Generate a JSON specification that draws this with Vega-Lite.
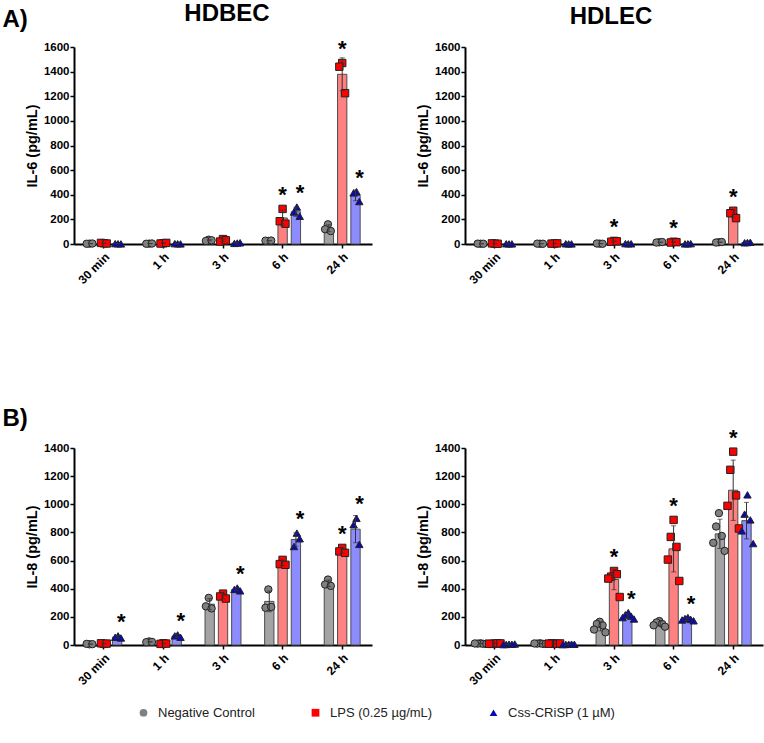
{
  "$schema": "https://vega.github.io/schema/vega-lite/v6.json",
  "padding": {"left": 2, "top": 2, "right": 2, "bottom": 2},
  "background": "white",
  "data": {"values": [
    {"p":"A1","t":"30 min","g":"NC","r":1,"v":3,"s":0},{"p":"A1","t":"30 min","g":"NC","r":2,"v":2,"s":0},{"p":"A1","t":"30 min","g":"NC","r":3,"v":4,"s":0},
    {"p":"A1","t":"30 min","g":"LPS","r":1,"v":6,"s":0},{"p":"A1","t":"30 min","g":"LPS","r":2,"v":9,"s":0},{"p":"A1","t":"30 min","g":"LPS","r":3,"v":4,"s":0},
    {"p":"A1","t":"30 min","g":"CSS","r":1,"v":2,"s":0},{"p":"A1","t":"30 min","g":"CSS","r":2,"v":3,"s":0},{"p":"A1","t":"30 min","g":"CSS","r":3,"v":1,"s":0},
    {"p":"A1","t":"1 h","g":"NC","r":1,"v":3,"s":0},{"p":"A1","t":"1 h","g":"NC","r":2,"v":2,"s":0},{"p":"A1","t":"1 h","g":"NC","r":3,"v":4,"s":0},
    {"p":"A1","t":"1 h","g":"LPS","r":1,"v":6,"s":0},{"p":"A1","t":"1 h","g":"LPS","r":2,"v":4,"s":0},{"p":"A1","t":"1 h","g":"LPS","r":3,"v":9,"s":0},
    {"p":"A1","t":"1 h","g":"CSS","r":1,"v":2,"s":0},{"p":"A1","t":"1 h","g":"CSS","r":2,"v":3,"s":0},{"p":"A1","t":"1 h","g":"CSS","r":3,"v":1,"s":0},
    {"p":"A1","t":"3 h","g":"NC","r":1,"v":35,"s":0},{"p":"A1","t":"3 h","g":"NC","r":2,"v":25,"s":0},{"p":"A1","t":"3 h","g":"NC","r":3,"v":30,"s":0},
    {"p":"A1","t":"3 h","g":"LPS","r":1,"v":40,"s":0},{"p":"A1","t":"3 h","g":"LPS","r":2,"v":20,"s":0},{"p":"A1","t":"3 h","g":"LPS","r":3,"v":30,"s":0},
    {"p":"A1","t":"3 h","g":"CSS","r":1,"v":8,"s":0},{"p":"A1","t":"3 h","g":"CSS","r":2,"v":5,"s":0},{"p":"A1","t":"3 h","g":"CSS","r":3,"v":10,"s":0},
    {"p":"A1","t":"6 h","g":"NC","r":1,"v":25,"s":0},{"p":"A1","t":"6 h","g":"NC","r":2,"v":27,"s":0},{"p":"A1","t":"6 h","g":"NC","r":3,"v":28,"s":0},
    {"p":"A1","t":"6 h","g":"LPS","r":1,"v":285,"s":1},{"p":"A1","t":"6 h","g":"LPS","r":2,"v":185,"s":1},{"p":"A1","t":"6 h","g":"LPS","r":3,"v":165,"s":1},
    {"p":"A1","t":"6 h","g":"CSS","r":1,"v":300,"s":1},{"p":"A1","t":"6 h","g":"CSS","r":2,"v":260,"s":1},{"p":"A1","t":"6 h","g":"CSS","r":3,"v":225,"s":1},
    {"p":"A1","t":"24 h","g":"NC","r":1,"v":160,"s":0},{"p":"A1","t":"24 h","g":"NC","r":2,"v":120,"s":0},{"p":"A1","t":"24 h","g":"NC","r":3,"v":105,"s":0},
    {"p":"A1","t":"24 h","g":"LPS","r":1,"v":1470,"s":1},{"p":"A1","t":"24 h","g":"LPS","r":2,"v":1440,"s":1},{"p":"A1","t":"24 h","g":"LPS","r":3,"v":1225,"s":1},
    {"p":"A1","t":"24 h","g":"CSS","r":1,"v":425,"s":1},{"p":"A1","t":"24 h","g":"CSS","r":2,"v":415,"s":1},{"p":"A1","t":"24 h","g":"CSS","r":3,"v":345,"s":1},

    {"p":"A2","t":"30 min","g":"NC","r":1,"v":2,"s":0},{"p":"A2","t":"30 min","g":"NC","r":2,"v":3,"s":0},{"p":"A2","t":"30 min","g":"NC","r":3,"v":2,"s":0},
    {"p":"A2","t":"30 min","g":"LPS","r":1,"v":3,"s":0},{"p":"A2","t":"30 min","g":"LPS","r":2,"v":5,"s":0},{"p":"A2","t":"30 min","g":"LPS","r":3,"v":2,"s":0},
    {"p":"A2","t":"30 min","g":"CSS","r":1,"v":1,"s":0},{"p":"A2","t":"30 min","g":"CSS","r":2,"v":2,"s":0},{"p":"A2","t":"30 min","g":"CSS","r":3,"v":1,"s":0},
    {"p":"A2","t":"1 h","g":"NC","r":1,"v":2,"s":0},{"p":"A2","t":"1 h","g":"NC","r":2,"v":3,"s":0},{"p":"A2","t":"1 h","g":"NC","r":3,"v":2,"s":0},
    {"p":"A2","t":"1 h","g":"LPS","r":1,"v":4,"s":0},{"p":"A2","t":"1 h","g":"LPS","r":2,"v":3,"s":0},{"p":"A2","t":"1 h","g":"LPS","r":3,"v":5,"s":0},
    {"p":"A2","t":"1 h","g":"CSS","r":1,"v":1,"s":0},{"p":"A2","t":"1 h","g":"CSS","r":2,"v":2,"s":0},{"p":"A2","t":"1 h","g":"CSS","r":3,"v":1,"s":0},
    {"p":"A2","t":"3 h","g":"NC","r":1,"v":3,"s":0},{"p":"A2","t":"3 h","g":"NC","r":2,"v":4,"s":0},{"p":"A2","t":"3 h","g":"NC","r":3,"v":2,"s":0},
    {"p":"A2","t":"3 h","g":"LPS","r":1,"v":25,"s":1},{"p":"A2","t":"3 h","g":"LPS","r":2,"v":18,"s":1},{"p":"A2","t":"3 h","g":"LPS","r":3,"v":22,"s":1},
    {"p":"A2","t":"3 h","g":"CSS","r":1,"v":2,"s":0},{"p":"A2","t":"3 h","g":"CSS","r":2,"v":3,"s":0},{"p":"A2","t":"3 h","g":"CSS","r":3,"v":2,"s":0},
    {"p":"A2","t":"6 h","g":"NC","r":1,"v":14,"s":0},{"p":"A2","t":"6 h","g":"NC","r":2,"v":12,"s":0},{"p":"A2","t":"6 h","g":"NC","r":3,"v":16,"s":0},
    {"p":"A2","t":"6 h","g":"LPS","r":1,"v":18,"s":1},{"p":"A2","t":"6 h","g":"LPS","r":2,"v":12,"s":1},{"p":"A2","t":"6 h","g":"LPS","r":3,"v":15,"s":1},
    {"p":"A2","t":"6 h","g":"CSS","r":1,"v":2,"s":0},{"p":"A2","t":"6 h","g":"CSS","r":2,"v":1,"s":0},{"p":"A2","t":"6 h","g":"CSS","r":3,"v":3,"s":0},
    {"p":"A2","t":"24 h","g":"NC","r":1,"v":14,"s":0},{"p":"A2","t":"24 h","g":"NC","r":2,"v":12,"s":0},{"p":"A2","t":"24 h","g":"NC","r":3,"v":16,"s":0},
    {"p":"A2","t":"24 h","g":"LPS","r":1,"v":270,"s":1},{"p":"A2","t":"24 h","g":"LPS","r":2,"v":250,"s":1},{"p":"A2","t":"24 h","g":"LPS","r":3,"v":210,"s":1},
    {"p":"A2","t":"24 h","g":"CSS","r":1,"v":12,"s":0},{"p":"A2","t":"24 h","g":"CSS","r":2,"v":10,"s":0},{"p":"A2","t":"24 h","g":"CSS","r":3,"v":14,"s":0},

    {"p":"B1","t":"30 min","g":"NC","r":1,"v":5,"s":0},{"p":"B1","t":"30 min","g":"NC","r":2,"v":8,"s":0},{"p":"B1","t":"30 min","g":"NC","r":3,"v":6,"s":0},
    {"p":"B1","t":"30 min","g":"LPS","r":1,"v":8,"s":0},{"p":"B1","t":"30 min","g":"LPS","r":2,"v":12,"s":0},{"p":"B1","t":"30 min","g":"LPS","r":3,"v":10,"s":0},
    {"p":"B1","t":"30 min","g":"CSS","r":1,"v":65,"s":1},{"p":"B1","t":"30 min","g":"CSS","r":2,"v":55,"s":1},{"p":"B1","t":"30 min","g":"CSS","r":3,"v":50,"s":1},
    {"p":"B1","t":"1 h","g":"NC","r":1,"v":25,"s":0},{"p":"B1","t":"1 h","g":"NC","r":2,"v":20,"s":0},{"p":"B1","t":"1 h","g":"NC","r":3,"v":22,"s":0},
    {"p":"B1","t":"1 h","g":"LPS","r":1,"v":12,"s":0},{"p":"B1","t":"1 h","g":"LPS","r":2,"v":8,"s":0},{"p":"B1","t":"1 h","g":"LPS","r":3,"v":10,"s":0},
    {"p":"B1","t":"1 h","g":"CSS","r":1,"v":72,"s":1},{"p":"B1","t":"1 h","g":"CSS","r":2,"v":65,"s":1},{"p":"B1","t":"1 h","g":"CSS","r":3,"v":55,"s":1},
    {"p":"B1","t":"3 h","g":"NC","r":1,"v":335,"s":0},{"p":"B1","t":"3 h","g":"NC","r":2,"v":275,"s":0},{"p":"B1","t":"3 h","g":"NC","r":3,"v":260,"s":0},
    {"p":"B1","t":"3 h","g":"LPS","r":1,"v":365,"s":0},{"p":"B1","t":"3 h","g":"LPS","r":2,"v":345,"s":0},{"p":"B1","t":"3 h","g":"LPS","r":3,"v":330,"s":0},
    {"p":"B1","t":"3 h","g":"CSS","r":1,"v":405,"s":1},{"p":"B1","t":"3 h","g":"CSS","r":2,"v":395,"s":1},{"p":"B1","t":"3 h","g":"CSS","r":3,"v":385,"s":1},
    {"p":"B1","t":"6 h","g":"NC","r":1,"v":395,"s":0},{"p":"B1","t":"6 h","g":"NC","r":2,"v":265,"s":0},{"p":"B1","t":"6 h","g":"NC","r":3,"v":270,"s":0},
    {"p":"B1","t":"6 h","g":"LPS","r":1,"v":605,"s":0},{"p":"B1","t":"6 h","g":"LPS","r":2,"v":575,"s":0},{"p":"B1","t":"6 h","g":"LPS","r":3,"v":570,"s":0},
    {"p":"B1","t":"6 h","g":"CSS","r":1,"v":795,"s":1},{"p":"B1","t":"6 h","g":"CSS","r":2,"v":700,"s":1},{"p":"B1","t":"6 h","g":"CSS","r":3,"v":755,"s":1},
    {"p":"B1","t":"24 h","g":"NC","r":1,"v":465,"s":0},{"p":"B1","t":"24 h","g":"NC","r":2,"v":430,"s":0},{"p":"B1","t":"24 h","g":"NC","r":3,"v":420,"s":0},
    {"p":"B1","t":"24 h","g":"LPS","r":1,"v":690,"s":1},{"p":"B1","t":"24 h","g":"LPS","r":2,"v":665,"s":1},{"p":"B1","t":"24 h","g":"LPS","r":3,"v":655,"s":1},
    {"p":"B1","t":"24 h","g":"CSS","r":1,"v":900,"s":1},{"p":"B1","t":"24 h","g":"CSS","r":2,"v":855,"s":1},{"p":"B1","t":"24 h","g":"CSS","r":3,"v":715,"s":1},

    {"p":"B2","t":"30 min","g":"NC","r":1,"v":12,"s":0},{"p":"B2","t":"30 min","g":"NC","r":2,"v":10,"s":0},{"p":"B2","t":"30 min","g":"NC","r":3,"v":8,"s":0},{"p":"B2","t":"30 min","g":"NC","r":4,"v":11,"s":0},{"p":"B2","t":"30 min","g":"NC","r":5,"v":9,"s":0},
    {"p":"B2","t":"30 min","g":"LPS","r":1,"v":10,"s":0},{"p":"B2","t":"30 min","g":"LPS","r":2,"v":8,"s":0},{"p":"B2","t":"30 min","g":"LPS","r":3,"v":12,"s":0},{"p":"B2","t":"30 min","g":"LPS","r":4,"v":9,"s":0},{"p":"B2","t":"30 min","g":"LPS","r":5,"v":11,"s":0},
    {"p":"B2","t":"30 min","g":"CSS","r":1,"v":6,"s":0},{"p":"B2","t":"30 min","g":"CSS","r":2,"v":4,"s":0},{"p":"B2","t":"30 min","g":"CSS","r":3,"v":5,"s":0},{"p":"B2","t":"30 min","g":"CSS","r":4,"v":3,"s":0},{"p":"B2","t":"30 min","g":"CSS","r":5,"v":7,"s":0},
    {"p":"B2","t":"1 h","g":"NC","r":1,"v":12,"s":0},{"p":"B2","t":"1 h","g":"NC","r":2,"v":10,"s":0},{"p":"B2","t":"1 h","g":"NC","r":3,"v":8,"s":0},{"p":"B2","t":"1 h","g":"NC","r":4,"v":11,"s":0},{"p":"B2","t":"1 h","g":"NC","r":5,"v":9,"s":0},
    {"p":"B2","t":"1 h","g":"LPS","r":1,"v":10,"s":0},{"p":"B2","t":"1 h","g":"LPS","r":2,"v":12,"s":0},{"p":"B2","t":"1 h","g":"LPS","r":3,"v":8,"s":0},{"p":"B2","t":"1 h","g":"LPS","r":4,"v":9,"s":0},{"p":"B2","t":"1 h","g":"LPS","r":5,"v":11,"s":0},
    {"p":"B2","t":"1 h","g":"CSS","r":1,"v":5,"s":0},{"p":"B2","t":"1 h","g":"CSS","r":2,"v":4,"s":0},{"p":"B2","t":"1 h","g":"CSS","r":3,"v":6,"s":0},{"p":"B2","t":"1 h","g":"CSS","r":4,"v":3,"s":0},{"p":"B2","t":"1 h","g":"CSS","r":5,"v":5,"s":0},
    {"p":"B2","t":"3 h","g":"NC","r":1,"v":165,"s":0},{"p":"B2","t":"3 h","g":"NC","r":2,"v":150,"s":0},{"p":"B2","t":"3 h","g":"NC","r":3,"v":140,"s":0},{"p":"B2","t":"3 h","g":"NC","r":4,"v":110,"s":0},{"p":"B2","t":"3 h","g":"NC","r":5,"v":90,"s":0},
    {"p":"B2","t":"3 h","g":"LPS","r":1,"v":526,"s":1},{"p":"B2","t":"3 h","g":"LPS","r":2,"v":486,"s":1},{"p":"B2","t":"3 h","g":"LPS","r":3,"v":503,"s":1},{"p":"B2","t":"3 h","g":"LPS","r":4,"v":472,"s":1},{"p":"B2","t":"3 h","g":"LPS","r":5,"v":341,"s":1},
    {"p":"B2","t":"3 h","g":"CSS","r":1,"v":230,"s":1},{"p":"B2","t":"3 h","g":"CSS","r":2,"v":215,"s":1},{"p":"B2","t":"3 h","g":"CSS","r":3,"v":205,"s":1},{"p":"B2","t":"3 h","g":"CSS","r":4,"v":195,"s":1},{"p":"B2","t":"3 h","g":"CSS","r":5,"v":185,"s":1},
    {"p":"B2","t":"6 h","g":"NC","r":1,"v":170,"s":0},{"p":"B2","t":"6 h","g":"NC","r":2,"v":160,"s":0},{"p":"B2","t":"6 h","g":"NC","r":3,"v":150,"s":0},{"p":"B2","t":"6 h","g":"NC","r":4,"v":140,"s":0},{"p":"B2","t":"6 h","g":"NC","r":5,"v":130,"s":0},
    {"p":"B2","t":"6 h","g":"LPS","r":1,"v":889,"s":1},{"p":"B2","t":"6 h","g":"LPS","r":2,"v":768,"s":1},{"p":"B2","t":"6 h","g":"LPS","r":3,"v":697,"s":1},{"p":"B2","t":"6 h","g":"LPS","r":4,"v":607,"s":1},{"p":"B2","t":"6 h","g":"LPS","r":5,"v":455,"s":1},
    {"p":"B2","t":"6 h","g":"CSS","r":1,"v":195,"s":1},{"p":"B2","t":"6 h","g":"CSS","r":2,"v":188,"s":1},{"p":"B2","t":"6 h","g":"CSS","r":3,"v":182,"s":1},{"p":"B2","t":"6 h","g":"CSS","r":4,"v":178,"s":1},{"p":"B2","t":"6 h","g":"CSS","r":5,"v":172,"s":1},
    {"p":"B2","t":"24 h","g":"NC","r":1,"v":937,"s":0},{"p":"B2","t":"24 h","g":"NC","r":2,"v":842,"s":0},{"p":"B2","t":"24 h","g":"NC","r":3,"v":775,"s":0},{"p":"B2","t":"24 h","g":"NC","r":4,"v":726,"s":0},{"p":"B2","t":"24 h","g":"NC","r":5,"v":669,"s":0},
    {"p":"B2","t":"24 h","g":"LPS","r":1,"v":1374,"s":1},{"p":"B2","t":"24 h","g":"LPS","r":2,"v":1245,"s":1},{"p":"B2","t":"24 h","g":"LPS","r":3,"v":1063,"s":1},{"p":"B2","t":"24 h","g":"LPS","r":4,"v":989,"s":1},{"p":"B2","t":"24 h","g":"LPS","r":5,"v":828,"s":1},
    {"p":"B2","t":"24 h","g":"CSS","r":1,"v":1067,"s":0},{"p":"B2","t":"24 h","g":"CSS","r":2,"v":930,"s":0},{"p":"B2","t":"24 h","g":"CSS","r":3,"v":889,"s":0},{"p":"B2","t":"24 h","g":"CSS","r":4,"v":811,"s":0},{"p":"B2","t":"24 h","g":"CSS","r":5,"v":721,"s":0}
  ]},
  "transform": [{"calculate": "datum.g + datum.r", "as": "slot"}],
  "vconcat": [
    {
      "title": {"text": "A)", "anchor": "start", "fontSize": 24, "fontWeight": "bold", "font": "Liberation Sans", "color": "black", "offset": -30, "dx": -22},
      "spacing": 43,
      "hconcat": [
        {
          "width": 298, "height": 197,
          "title": {"text": "HDBEC", "fontSize": 24, "fontWeight": "bold", "font": "Liberation Sans", "color": "black", "offset": 12, "dx": 4},
          "transform": [{"filter": "datum.p === 'A1'"}],
          "encoding": {"x": {"field": "t", "type": "nominal", "scale": {"domain": ["30 min","1 h","3 h","6 h","24 h"], "paddingInner": 0.33, "paddingOuter": 0.165}, "axis": {"title": null}}},
          "resolve": {"scale": {"xOffset": "independent"}},
          "layer": [
            {"mark": {"type": "bar", "stroke": "#4d4d4d", "strokeWidth": 1},
             "encoding": {
               "y": {"aggregate": "mean", "field": "v", "type": "quantitative", "scale": {"domain": [0, 1600], "nice": false}, "axis": {"title": "IL-6 (pg/mL)", "values": [0,200,400,600,800,1000,1200,1400,1600]}},
               "xOffset": {"field": "g", "type": "nominal", "scale": {"domain": ["NC","LPS","CSS"], "paddingInner": 0.3, "paddingOuter": 0.15}},
               "color": {"field": "g", "type": "nominal", "scale": {"domain": ["CSS","LPS","NC"], "range": ["#8c8cff","#ff8080","#a3a3a6"]}, "legend": null}}},
            {"mark": {"type": "point", "filled": true, "size": 55, "stroke": "#222222", "strokeWidth": 1, "opacity": 1},
             "encoding": {
               "y": {"field": "v", "type": "quantitative", "axis": {"title": "IL-6 (pg/mL)", "values": [0,200,400,600,800,1000,1200,1400,1600]}},
               "xOffset": {"field": "slot", "type": "nominal", "scale": {"domain": ["NC4","NC2","NC1","NC3","NC5","LPS4","LPS2","LPS1","LPS3","LPS5","CSS4","CSS2","CSS1","CSS3","CSS5"], "paddingInner": 0, "paddingOuter": 0}},
               "fill": {"field": "g", "type": "nominal", "title": null, "scale": {"domain": ["NC","LPS","CSS"], "range": ["#808080","#ff0000","#0a0ab4"]}, "legend": {"labelExpr": "datum.value == 'NC' ? 'Negative Control' : datum.value == 'LPS' ? 'LPS (0.25 µg/mL)' : 'Css-CRiSP (1 µM)'", "symbolStrokeColor": "#222222", "symbolStrokeWidth": 1}},
               "shape": {"field": "g", "type": "nominal", "title": null, "scale": {"domain": ["NC","LPS","CSS"], "range": ["circle","square","triangle-up"]}, "legend": {"labelExpr": "datum.value == 'NC' ? 'Negative Control' : datum.value == 'LPS' ? 'LPS (0.25 µg/mL)' : 'Css-CRiSP (1 µM)'", "symbolStrokeColor": "#222222", "symbolStrokeWidth": 1}}}},
            {"transform": [{"aggregate": [{"op": "mean", "field": "v", "as": "m"}, {"op": "stdev", "field": "v", "as": "sd"}], "groupby": ["t","g"]}, {"calculate": "datum.m - datum.sd", "as": "lo"}, {"calculate": "datum.m + datum.sd", "as": "hi"}],
             "layer": [
               {"mark": {"type": "rule", "color": "#333333", "strokeWidth": 1}, "encoding": {"y": {"field": "lo", "type": "quantitative", "axis": {"title": "IL-6 (pg/mL)", "values": [0,200,400,600,800,1000,1200,1400,1600]}}, "y2": {"field": "hi"}, "xOffset": {"field": "g", "type": "nominal", "scale": {"domain": ["NC","LPS","CSS"], "paddingInner": 0.3, "paddingOuter": 0.15}}}},
               {"mark": {"type": "tick", "color": "#333333", "thickness": 1, "size": 5, "orient": "horizontal"}, "encoding": {"y": {"field": "lo", "type": "quantitative", "axis": {"title": "IL-6 (pg/mL)", "values": [0,200,400,600,800,1000,1200,1400,1600]}}, "xOffset": {"field": "g", "type": "nominal", "scale": {"domain": ["NC","LPS","CSS"], "paddingInner": 0.3, "paddingOuter": 0.15}}}},
               {"mark": {"type": "tick", "color": "#333333", "thickness": 1, "size": 5, "orient": "horizontal"}, "encoding": {"y": {"field": "hi", "type": "quantitative", "axis": {"title": "IL-6 (pg/mL)", "values": [0,200,400,600,800,1000,1200,1400,1600]}}, "xOffset": {"field": "g", "type": "nominal", "scale": {"domain": ["NC","LPS","CSS"], "paddingInner": 0.3, "paddingOuter": 0.15}}}}
             ]},
            {"transform": [{"filter": "datum.s == 1"}, {"aggregate": [{"op": "max", "field": "v", "as": "mx"}], "groupby": ["t","g"]}],
             "mark": {"type": "text", "text": "*", "fontSize": 22, "fontWeight": "bold", "font": "Liberation Sans", "color": "black", "baseline": "alphabetic", "dy": -7},
             "encoding": {"y": {"field": "mx", "type": "quantitative", "axis": {"title": "IL-6 (pg/mL)", "values": [0,200,400,600,800,1000,1200,1400,1600]}}, "xOffset": {"field": "g", "type": "nominal", "scale": {"domain": ["NC","LPS","CSS"], "paddingInner": 0.3, "paddingOuter": 0.15}}}}
          ]
        },
        {
          "width": 298, "height": 197,
          "title": {"text": "HDLEC", "fontSize": 24, "fontWeight": "bold", "font": "Liberation Sans", "color": "black", "offset": 12, "dx": -3},
          "transform": [{"filter": "datum.p === 'A2'"}],
          "encoding": {"x": {"field": "t", "type": "nominal", "scale": {"domain": ["30 min","1 h","3 h","6 h","24 h"], "paddingInner": 0.33, "paddingOuter": 0.165}, "axis": {"title": null}}},
          "resolve": {"scale": {"xOffset": "independent"}},
          "layer": [
            {"mark": {"type": "bar", "stroke": "#4d4d4d", "strokeWidth": 1},
             "encoding": {
               "y": {"aggregate": "mean", "field": "v", "type": "quantitative", "scale": {"domain": [0, 1600], "nice": false}, "axis": {"title": "IL-6 (pg/mL)", "values": [0,200,400,600,800,1000,1200,1400,1600]}},
               "xOffset": {"field": "g", "type": "nominal", "scale": {"domain": ["NC","LPS","CSS"], "paddingInner": 0.3, "paddingOuter": 0.15}},
               "color": {"field": "g", "type": "nominal", "scale": {"domain": ["CSS","LPS","NC"], "range": ["#8c8cff","#ff8080","#a3a3a6"]}, "legend": null}}},
            {"mark": {"type": "point", "filled": true, "size": 55, "stroke": "#222222", "strokeWidth": 1, "opacity": 1},
             "encoding": {
               "y": {"field": "v", "type": "quantitative", "axis": {"title": "IL-6 (pg/mL)", "values": [0,200,400,600,800,1000,1200,1400,1600]}},
               "xOffset": {"field": "slot", "type": "nominal", "scale": {"domain": ["NC4","NC2","NC1","NC3","NC5","LPS4","LPS2","LPS1","LPS3","LPS5","CSS4","CSS2","CSS1","CSS3","CSS5"], "paddingInner": 0, "paddingOuter": 0}},
               "fill": {"field": "g", "type": "nominal", "title": null, "scale": {"domain": ["NC","LPS","CSS"], "range": ["#808080","#ff0000","#0a0ab4"]}, "legend": {"labelExpr": "datum.value == 'NC' ? 'Negative Control' : datum.value == 'LPS' ? 'LPS (0.25 µg/mL)' : 'Css-CRiSP (1 µM)'", "symbolStrokeColor": "#222222", "symbolStrokeWidth": 1}},
               "shape": {"field": "g", "type": "nominal", "title": null, "scale": {"domain": ["NC","LPS","CSS"], "range": ["circle","square","triangle-up"]}, "legend": {"labelExpr": "datum.value == 'NC' ? 'Negative Control' : datum.value == 'LPS' ? 'LPS (0.25 µg/mL)' : 'Css-CRiSP (1 µM)'", "symbolStrokeColor": "#222222", "symbolStrokeWidth": 1}}}},
            {"transform": [{"aggregate": [{"op": "mean", "field": "v", "as": "m"}, {"op": "stdev", "field": "v", "as": "sd"}], "groupby": ["t","g"]}, {"calculate": "datum.m - datum.sd", "as": "lo"}, {"calculate": "datum.m + datum.sd", "as": "hi"}],
             "layer": [
               {"mark": {"type": "rule", "color": "#333333", "strokeWidth": 1}, "encoding": {"y": {"field": "lo", "type": "quantitative", "axis": {"title": "IL-6 (pg/mL)", "values": [0,200,400,600,800,1000,1200,1400,1600]}}, "y2": {"field": "hi"}, "xOffset": {"field": "g", "type": "nominal", "scale": {"domain": ["NC","LPS","CSS"], "paddingInner": 0.3, "paddingOuter": 0.15}}}},
               {"mark": {"type": "tick", "color": "#333333", "thickness": 1, "size": 5, "orient": "horizontal"}, "encoding": {"y": {"field": "lo", "type": "quantitative", "axis": {"title": "IL-6 (pg/mL)", "values": [0,200,400,600,800,1000,1200,1400,1600]}}, "xOffset": {"field": "g", "type": "nominal", "scale": {"domain": ["NC","LPS","CSS"], "paddingInner": 0.3, "paddingOuter": 0.15}}}},
               {"mark": {"type": "tick", "color": "#333333", "thickness": 1, "size": 5, "orient": "horizontal"}, "encoding": {"y": {"field": "hi", "type": "quantitative", "axis": {"title": "IL-6 (pg/mL)", "values": [0,200,400,600,800,1000,1200,1400,1600]}}, "xOffset": {"field": "g", "type": "nominal", "scale": {"domain": ["NC","LPS","CSS"], "paddingInner": 0.3, "paddingOuter": 0.15}}}}
             ]},
            {"transform": [{"filter": "datum.s == 1"}, {"aggregate": [{"op": "max", "field": "v", "as": "mx"}], "groupby": ["t","g"]}],
             "mark": {"type": "text", "text": "*", "fontSize": 22, "fontWeight": "bold", "font": "Liberation Sans", "color": "black", "baseline": "alphabetic", "dy": -7},
             "encoding": {"y": {"field": "mx", "type": "quantitative", "axis": {"title": "IL-6 (pg/mL)", "values": [0,200,400,600,800,1000,1200,1400,1600]}}, "xOffset": {"field": "g", "type": "nominal", "scale": {"domain": ["NC","LPS","CSS"], "paddingInner": 0.3, "paddingOuter": 0.15}}}}
          ]
        }
      ]
    },
    {
      "title": {"text": "B)", "anchor": "start", "fontSize": 24, "fontWeight": "bold", "font": "Liberation Sans", "color": "black", "offset": -4, "dx": -22},
      "spacing": 43,
      "hconcat": [
        {
          "width": 298, "height": 197,
          "transform": [{"filter": "datum.p === 'B1'"}],
          "encoding": {"x": {"field": "t", "type": "nominal", "scale": {"domain": ["30 min","1 h","3 h","6 h","24 h"], "paddingInner": 0.33, "paddingOuter": 0.165}, "axis": {"title": null}}},
          "resolve": {"scale": {"xOffset": "independent"}},
          "layer": [
            {"mark": {"type": "bar", "stroke": "#4d4d4d", "strokeWidth": 1},
             "encoding": {
               "y": {"aggregate": "mean", "field": "v", "type": "quantitative", "scale": {"domain": [0, 1400], "nice": false}, "axis": {"title": "IL-8 (pg/mL)", "values": [0,200,400,600,800,1000,1200,1400]}},
               "xOffset": {"field": "g", "type": "nominal", "scale": {"domain": ["NC","LPS","CSS"], "paddingInner": 0.3, "paddingOuter": 0.15}},
               "color": {"field": "g", "type": "nominal", "scale": {"domain": ["CSS","LPS","NC"], "range": ["#8c8cff","#ff8080","#a3a3a6"]}, "legend": null}}},
            {"mark": {"type": "point", "filled": true, "size": 55, "stroke": "#222222", "strokeWidth": 1, "opacity": 1},
             "encoding": {
               "y": {"field": "v", "type": "quantitative", "axis": {"title": "IL-8 (pg/mL)", "values": [0,200,400,600,800,1000,1200,1400]}},
               "xOffset": {"field": "slot", "type": "nominal", "scale": {"domain": ["NC4","NC2","NC1","NC3","NC5","LPS4","LPS2","LPS1","LPS3","LPS5","CSS4","CSS2","CSS1","CSS3","CSS5"], "paddingInner": 0, "paddingOuter": 0}},
               "fill": {"field": "g", "type": "nominal", "title": null, "scale": {"domain": ["NC","LPS","CSS"], "range": ["#808080","#ff0000","#0a0ab4"]}, "legend": {"labelExpr": "datum.value == 'NC' ? 'Negative Control' : datum.value == 'LPS' ? 'LPS (0.25 µg/mL)' : 'Css-CRiSP (1 µM)'", "symbolStrokeColor": "#222222", "symbolStrokeWidth": 1}},
               "shape": {"field": "g", "type": "nominal", "title": null, "scale": {"domain": ["NC","LPS","CSS"], "range": ["circle","square","triangle-up"]}, "legend": {"labelExpr": "datum.value == 'NC' ? 'Negative Control' : datum.value == 'LPS' ? 'LPS (0.25 µg/mL)' : 'Css-CRiSP (1 µM)'", "symbolStrokeColor": "#222222", "symbolStrokeWidth": 1}}}},
            {"transform": [{"aggregate": [{"op": "mean", "field": "v", "as": "m"}, {"op": "stdev", "field": "v", "as": "sd"}], "groupby": ["t","g"]}, {"calculate": "datum.m - datum.sd", "as": "lo"}, {"calculate": "datum.m + datum.sd", "as": "hi"}],
             "layer": [
               {"mark": {"type": "rule", "color": "#333333", "strokeWidth": 1}, "encoding": {"y": {"field": "lo", "type": "quantitative", "axis": {"title": "IL-8 (pg/mL)", "values": [0,200,400,600,800,1000,1200,1400]}}, "y2": {"field": "hi"}, "xOffset": {"field": "g", "type": "nominal", "scale": {"domain": ["NC","LPS","CSS"], "paddingInner": 0.3, "paddingOuter": 0.15}}}},
               {"mark": {"type": "tick", "color": "#333333", "thickness": 1, "size": 5, "orient": "horizontal"}, "encoding": {"y": {"field": "lo", "type": "quantitative", "axis": {"title": "IL-8 (pg/mL)", "values": [0,200,400,600,800,1000,1200,1400]}}, "xOffset": {"field": "g", "type": "nominal", "scale": {"domain": ["NC","LPS","CSS"], "paddingInner": 0.3, "paddingOuter": 0.15}}}},
               {"mark": {"type": "tick", "color": "#333333", "thickness": 1, "size": 5, "orient": "horizontal"}, "encoding": {"y": {"field": "hi", "type": "quantitative", "axis": {"title": "IL-8 (pg/mL)", "values": [0,200,400,600,800,1000,1200,1400]}}, "xOffset": {"field": "g", "type": "nominal", "scale": {"domain": ["NC","LPS","CSS"], "paddingInner": 0.3, "paddingOuter": 0.15}}}}
             ]},
            {"transform": [{"filter": "datum.s == 1"}, {"aggregate": [{"op": "max", "field": "v", "as": "mx"}], "groupby": ["t","g"]}],
             "mark": {"type": "text", "text": "*", "fontSize": 22, "fontWeight": "bold", "font": "Liberation Sans", "color": "black", "baseline": "alphabetic", "dy": -7},
             "encoding": {"y": {"field": "mx", "type": "quantitative", "axis": {"title": "IL-8 (pg/mL)", "values": [0,200,400,600,800,1000,1200,1400]}}, "xOffset": {"field": "g", "type": "nominal", "scale": {"domain": ["NC","LPS","CSS"], "paddingInner": 0.3, "paddingOuter": 0.15}}}}
          ]
        },
        {
          "width": 298, "height": 197,
          "transform": [{"filter": "datum.p === 'B2'"}],
          "encoding": {"x": {"field": "t", "type": "nominal", "scale": {"domain": ["30 min","1 h","3 h","6 h","24 h"], "paddingInner": 0.33, "paddingOuter": 0.165}, "axis": {"title": null}}},
          "resolve": {"scale": {"xOffset": "independent"}},
          "layer": [
            {"mark": {"type": "bar", "stroke": "#4d4d4d", "strokeWidth": 1},
             "encoding": {
               "y": {"aggregate": "mean", "field": "v", "type": "quantitative", "scale": {"domain": [0, 1400], "nice": false}, "axis": {"title": "IL-8 (pg/mL)", "values": [0,200,400,600,800,1000,1200,1400]}},
               "xOffset": {"field": "g", "type": "nominal", "scale": {"domain": ["NC","LPS","CSS"], "paddingInner": 0.3, "paddingOuter": 0.15}},
               "color": {"field": "g", "type": "nominal", "scale": {"domain": ["CSS","LPS","NC"], "range": ["#8c8cff","#ff8080","#a3a3a6"]}, "legend": null}}},
            {"mark": {"type": "point", "filled": true, "size": 55, "stroke": "#222222", "strokeWidth": 1, "opacity": 1},
             "encoding": {
               "y": {"field": "v", "type": "quantitative", "axis": {"title": "IL-8 (pg/mL)", "values": [0,200,400,600,800,1000,1200,1400]}},
               "xOffset": {"field": "slot", "type": "nominal", "scale": {"domain": ["NC4","NC2","NC1","NC3","NC5","LPS4","LPS2","LPS1","LPS3","LPS5","CSS4","CSS2","CSS1","CSS3","CSS5"], "paddingInner": 0, "paddingOuter": 0}},
               "fill": {"field": "g", "type": "nominal", "title": null, "scale": {"domain": ["NC","LPS","CSS"], "range": ["#808080","#ff0000","#0a0ab4"]}, "legend": {"labelExpr": "datum.value == 'NC' ? 'Negative Control' : datum.value == 'LPS' ? 'LPS (0.25 µg/mL)' : 'Css-CRiSP (1 µM)'", "symbolStrokeColor": "#222222", "symbolStrokeWidth": 1}},
               "shape": {"field": "g", "type": "nominal", "title": null, "scale": {"domain": ["NC","LPS","CSS"], "range": ["circle","square","triangle-up"]}, "legend": {"labelExpr": "datum.value == 'NC' ? 'Negative Control' : datum.value == 'LPS' ? 'LPS (0.25 µg/mL)' : 'Css-CRiSP (1 µM)'", "symbolStrokeColor": "#222222", "symbolStrokeWidth": 1}}}},
            {"transform": [{"aggregate": [{"op": "mean", "field": "v", "as": "m"}, {"op": "stdev", "field": "v", "as": "sd"}], "groupby": ["t","g"]}, {"calculate": "datum.m - datum.sd", "as": "lo"}, {"calculate": "datum.m + datum.sd", "as": "hi"}],
             "layer": [
               {"mark": {"type": "rule", "color": "#333333", "strokeWidth": 1}, "encoding": {"y": {"field": "lo", "type": "quantitative", "axis": {"title": "IL-8 (pg/mL)", "values": [0,200,400,600,800,1000,1200,1400]}}, "y2": {"field": "hi"}, "xOffset": {"field": "g", "type": "nominal", "scale": {"domain": ["NC","LPS","CSS"], "paddingInner": 0.3, "paddingOuter": 0.15}}}},
               {"mark": {"type": "tick", "color": "#333333", "thickness": 1, "size": 5, "orient": "horizontal"}, "encoding": {"y": {"field": "lo", "type": "quantitative", "axis": {"title": "IL-8 (pg/mL)", "values": [0,200,400,600,800,1000,1200,1400]}}, "xOffset": {"field": "g", "type": "nominal", "scale": {"domain": ["NC","LPS","CSS"], "paddingInner": 0.3, "paddingOuter": 0.15}}}},
               {"mark": {"type": "tick", "color": "#333333", "thickness": 1, "size": 5, "orient": "horizontal"}, "encoding": {"y": {"field": "hi", "type": "quantitative", "axis": {"title": "IL-8 (pg/mL)", "values": [0,200,400,600,800,1000,1200,1400]}}, "xOffset": {"field": "g", "type": "nominal", "scale": {"domain": ["NC","LPS","CSS"], "paddingInner": 0.3, "paddingOuter": 0.15}}}}
             ]},
            {"transform": [{"filter": "datum.s == 1"}, {"aggregate": [{"op": "max", "field": "v", "as": "mx"}], "groupby": ["t","g"]}],
             "mark": {"type": "text", "text": "*", "fontSize": 22, "fontWeight": "bold", "font": "Liberation Sans", "color": "black", "baseline": "alphabetic", "dy": -7},
             "encoding": {"y": {"field": "mx", "type": "quantitative", "axis": {"title": "IL-8 (pg/mL)", "values": [0,200,400,600,800,1000,1200,1400]}}, "xOffset": {"field": "g", "type": "nominal", "scale": {"domain": ["NC","LPS","CSS"], "paddingInner": 0.3, "paddingOuter": 0.15}}}}
          ]
        }
      ]
    }
  ],
  "spacing": 120,
  "config": {
    "view": {"stroke": null},
    "font": "Liberation Sans",
    "axis": {"grid": false, "domainColor": "black", "domainWidth": 2, "tickColor": "black", "tickWidth": 1.5, "tickSize": 4, "labelFont": "Liberation Sans", "labelFontWeight": "bold", "labelFontSize": 11.5, "labelColor": "black", "labelPadding": 1, "labelOverlap": false, "titleFont": "Liberation Sans", "titleFontWeight": "bold", "titleFontSize": 14.5, "titleColor": "black", "titlePadding": 4},
    "axisY": {"format": "d"},
    "axisX": {"labelAngle": -45, "labelPadding": 3, "labelFontSize": 12},
    "legend": {"orient": "none", "direction": "horizontal", "legendX": 63, "legendY": 659, "labelFont": "Liberation Sans", "labelFontSize": 13, "labelColor": "#222222", "symbolSize": 60, "symbolStrokeColor": "#222222", "symbolStrokeWidth": 1, "columnPadding": 54, "labelOffset": 8, "padding": 0, "labelLimit": 300}
  }
}
